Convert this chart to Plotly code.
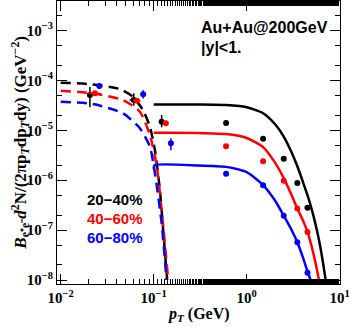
import plotly.graph_objects as go

# ---------------- data ----------------
centralities = ["20−40%", "40−60%", "60−80%"]
colors = ["black", "red", "blue"]

# low-pT data points (with error bars)
low_pt = [[0.0206, 0.061, 0.1216],
          [0.0233, 0.066, 0.135],
          [0.026, 0.077, 0.153]]
low_val = [[5.1e-5, 4.05e-5, 1.49e-5],
           [5.5e-5, 3.9e-5, 1.38e-5],
           [7.7e-5, 5.26e-5, 5.5e-6]]
low_err_up = [[2.3e-5, 1.45e-5, 5.4e-6],
              [4e-6, 3e-6, 1.2e-6],
              [1.1e-5, 1.05e-5, 1.4e-6]]
low_err_dn = [[2.2e-5, 0.95e-5, 3.4e-6],
              [4e-6, 3e-6, 1.2e-6],
              [1.0e-5, 0.9e-5, 1.5e-6]]
low_xerr = [[0.0, 0.006, 0.0],
            [0.0035, 0.006, 0.0],
            [0.0, 0.0, 0.0]]

# high-pT data points
high_pt = [0.6, 1.5, 2.5, 3.5, 4.5]
high_val = [[1.4e-5, 6.8e-6, 2.7e-6, 8.8e-7, 2.8e-7],
            [4.8e-6, 2.4e-6, 9.8e-7, 2.7e-7, 9.2e-8],
            [1.35e-6, 7.9e-7, 1.95e-7, 5.7e-8, 1.4e-8]]

# dashed model curves (low pT)
dash_pt = [[0.01, 0.0206, 0.0434, 0.0597, 0.0765, 0.091, 0.103, 0.1165, 0.1264, 0.1396],
           [0.01, 0.0222, 0.0467, 0.071, 0.091, 0.1074, 0.1256, 0.143],
           [0.01, 0.0222, 0.0467, 0.071, 0.091, 0.103, 0.1216, 0.1374]]
dash_val = [[9.0e-5, 8.4e-5, 6.7e-5, 4.7e-5, 2.55e-5, 1.18e-5, 4.0e-6, 6.4e-7, 1.0e-7, 1.0e-8],
            [6.2e-5, 5.5e-5, 4.05e-5, 2.36e-5, 8.0e-6, 2.0e-6, 1.39e-7, 1e-8],
            [3.74e-5, 3.36e-5, 2.19e-5, 1.1e-5, 4.7e-6, 1.39e-6, 1.39e-7, 1e-8]]

# solid model curves (high pT)
solid_pt = [[0.1, 0.3, 0.6, 1.0, 1.5, 2.0, 2.5, 3.0, 3.5, 4.0, 4.5, 5.0, 5.5, 6.0, 6.5, 7.06],
            [0.1, 0.3, 0.6, 1.0, 1.5, 2.0, 2.5, 3.0, 3.5, 4.0, 4.5, 5.0, 5.5, 5.98],
            [0.1, 0.102, 0.3, 0.6, 1.0, 1.5, 2.0, 2.5, 3.0, 3.5, 4.0, 4.5, 4.87]]
solid_val = [[3.3e-5, 3.28e-5, 3.2e-5, 2.9e-5, 2.2e-5, 1.35e-5, 7.5e-6, 3.8e-6, 1.9e-6, 9.5e-7,
              5.0e-7, 2.6e-7, 1.3e-7, 6.2e-8, 2.7e-8, 1e-8],
             [8.9e-6, 8.85e-6, 8.4e-6, 7.0e-6, 4.6e-6, 2.3e-6, 1.1e-6, 5.3e-7, 2.7e-7, 1.6e-7,
              9.3e-8, 4.6e-8, 2.2e-8, 1e-8],
             [1.7e-6, 2.0e-6, 1.98e-6, 1.85e-6, 1.45e-6, 8.0e-7, 4.0e-7, 1.95e-7, 1.05e-7, 5.7e-8,
              2.9e-8, 1.5e-8, 1e-8]]

x_tickvals = [0.01, 0.1, 1, 10]
x_ticktext = ["10<sup>−2</sup>", "10<sup>−1</sup>", "10<sup>0</sup>", "10<sup>1</sup>"]
y_tickvals = [1e-8, 1e-7, 1e-6, 1e-5, 1e-4, 1e-3]
y_ticktext = ["10<sup>−8</sup>", "10<sup>−7</sup>", "10<sup>−6</sup>", "10<sup>−5</sup>",
              "10<sup>−4</sup>", "10<sup>−3</sup>"]

# ---------------- figure ----------------
fig = go.Figure()

for i, c in enumerate(colors):
    fig.add_trace(go.Scatter(x=dash_pt[i], y=dash_val[i], mode="lines",
                             line=dict(color=c, width=2.5, dash="10px,6px", shape="spline",
                                       smoothing=0.6),
                             showlegend=False))
for i, c in enumerate(colors):
    fig.add_trace(go.Scatter(x=solid_pt[i], y=solid_val[i], mode="lines",
                             line=dict(color=c, width=2.5, shape="spline", smoothing=0.6),
                             showlegend=False))
for i, c in enumerate(colors):
    fig.add_trace(go.Scatter(x=low_pt[i], y=low_val[i], mode="markers",
                             marker=dict(color=c, size=6),
                             error_y=dict(type="data", symmetric=False, array=low_err_up[i],
                                          arrayminus=low_err_dn[i], color=c, thickness=1.5,
                                          width=0),
                             error_x=dict(type="data", array=low_xerr[i], color=c,
                                          thickness=1.5, width=0),
                             showlegend=False))
    fig.add_trace(go.Scatter(x=high_pt, y=high_val[i], mode="markers",
                             marker=dict(color=c, size=6), showlegend=False))

tickfont = dict(family="Liberation Serif", size=15, color="black", weight="bold")
axis_common = dict(type="log", showgrid=False, zeroline=False, showline=True, linecolor="black",
                   linewidth=1, mirror="allticks", ticks="inside", ticklen=10, tickcolor="black",
                   tickfont=tickfont,
                   minor=dict(ticks="inside", ticklen=5, tickcolor="black", showgrid=False))

fig.update_xaxes(range=[-2.04, 1.003], tickvals=x_tickvals, ticktext=x_ticktext, **axis_common)
fig.update_yaxes(range=[-8.08, -2.409], tickvals=y_tickvals, ticktext=y_ticktext, **axis_common)

# legend text
for i, (lab, c) in enumerate(zip(centralities, colors)):
    fig.add_annotation(x=0.1, y=0.3 - i * 0.068, xref="paper", yref="paper", text=lab,
                       showarrow=False, xanchor="left", yanchor="middle",
                       font=dict(family="Liberation Sans", size=15, color=c, weight="bold"))

fig.add_annotation(x=0.5, y=0.905, xref="paper", yref="paper", text="Au+Au@200GeV",
                   showarrow=False, xanchor="left", yanchor="middle",
                   font=dict(family="Liberation Sans", size=16, color="black", weight="bold"))
fig.add_annotation(x=0.5, y=0.837, xref="paper", yref="paper", text="|y|<1.",
                   showarrow=False, xanchor="left", yanchor="middle",
                   font=dict(family="Liberation Sans", size=16, color="black", weight="bold"))

# axis titles
fig.add_annotation(x=-0.13, y=0.5, xref="paper", yref="paper", textangle=-90,
                   text="<i>B</i><sub>e⁺e⁻</sub><i>d</i><sup>2</sup>N/(2πp<sub><i>T</i></sub>dp<sub><i>T</i></sub>dy) (GeV<sup>−2</sup>)",
                   showarrow=False, xanchor="center", yanchor="middle",
                   font=dict(family="Liberation Serif", size=17, color="black", weight="bold"))
fig.add_annotation(x=0.5, y=-0.108, xref="paper", yref="paper",
                   text="<i>p</i><sub><i>T</i></sub> (GeV)",
                   showarrow=False, xanchor="center", yanchor="middle",
                   font=dict(family="Liberation Serif", size=16, color="black", weight="bold"))

fig.update_layout(width=350, height=327, margin=dict(l=57, r=10, t=1, b=43),
                  plot_bgcolor="white", paper_bgcolor="white", showlegend=False)

fig.write_html("out.html")
